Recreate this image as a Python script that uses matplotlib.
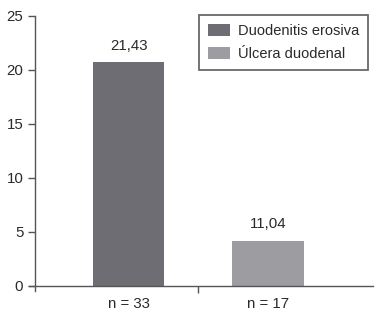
import matplotlib.pyplot as plt
from matplotlib.patches import Patch

# datos
grupos = ["n = 33", "n = 17"]
alturas = [20.7, 4.2]
etiquetas = ["21,43", "11,04"]
leyenda = ["Duodenitis erosiva", "Úlcera duodenal"]
colores = ["#6e6d73", "#9d9ca1"]

plt.rcParams['font.family'] = ['Liberation Sans', 'DejaVu Sans']
plt.rcParams['font.size'] = 10.8
txt = "#2a2a2a"
eje = "#555555"

fig = plt.figure(figsize=(3.84, 3.18), dpi=100)
ax = fig.add_axes([0.0768, 0.0667, 0.8935, 0.883])

x = list(range(len(grupos)))
ax.bar(x, alturas, width=0.51, color=colores)
for xi, h, lab in zip(x, alturas, etiquetas):
    ax.text(xi, h + 0.9, lab, ha='center', va='bottom', color=txt)

ax.set_xlim(-0.71, 1.75)
ax.set_ylim(-1, 25)
for s in ['top', 'right']:
    ax.spines[s].set_visible(False)
ax.spines['left'].set_position(('data', -0.67))
ax.spines['left'].set_bounds(-0.5, 25)
ax.spines['bottom'].set_position(('data', 0))
for s in ['left', 'bottom']:
    ax.spines[s].set_color(eje)
    ax.spines[s].set_linewidth(1.0)

ax.set_yticks([0, 5, 10, 15, 20, 25])
ax.tick_params(axis='y', length=5, color=eje, labelcolor=txt, width=1)
ax.set_xticks(x)
ax.set_xticklabels(grupos, color=txt)
ax.tick_params(axis='x', length=0, pad=8)
ax.set_xticks([0.5], minor=True)
ax.tick_params(axis='x', which='minor', length=5, color=eje, width=1)

handles = [Patch(facecolor=c, edgecolor='none') for c in colores]
lg = ax.legend(handles, leyenda, loc='upper right', bbox_to_anchor=(0.987, 1.004),
               frameon=True, fancybox=False, handlelength=1.55, handleheight=0.95,
               borderpad=0.6, labelspacing=0.6, handletextpad=0.55, borderaxespad=0,
               fontsize=10.5)
lg.get_frame().set_edgecolor("#444444")
lg.get_frame().set_linewidth(1.3)
for t in lg.get_texts():
    t.set_color(txt)

fig.savefig("out.png", dpi=100)
